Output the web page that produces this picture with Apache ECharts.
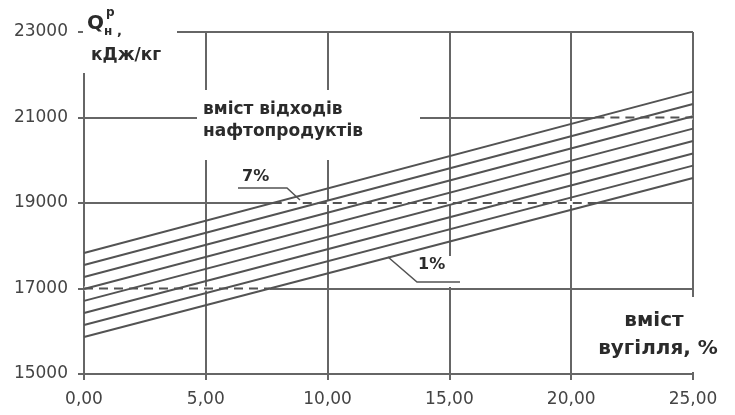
<!DOCTYPE html>
<html>
<head>
<meta charset="utf-8">
<script src="https://cdn.jsdelivr.net/npm/echarts@6/dist/echarts.min.js"></script>
<style>html,body{margin:0;padding:0;background:#fff;}#c{width:735px;height:415px;}</style>
</head>
<body>
<div id="c"></div>
<script>
// x positions (coal content, %) where each line is read
const xPoints = [0, 25];
// heating value of each line (from lowest "1%" to highest "7%") at x = 0 and x = 25
const valuesAtStart = [15865, 16145, 16425, 16710, 16990, 17270, 17550, 17830];
const valuesAtEnd   = [19585, 19875, 20160, 20450, 20740, 21030, 21315, 21605];
const xTickValues = [0, 5, 10, 15, 20, 25];
const xTickLabels = ['0,00', '5,00', '10,00', '15,00', '20,00', '25,00'];
const yTickValues = [15000, 17000, 19000, 21000, 23000];
const yTickLabels = ['15000', '17000', '19000', '21000', '23000'];
const lowLabel = '1%';
const highLabel = '7%';

const FONT = 'DejaVu Sans';
const GRID_COLOR = '#666666';
const LINE_COLOR = '#535353';

const chart = echarts.init(document.getElementById('c'), null, {renderer: 'canvas'});

// main series
const mainSeries = valuesAtStart.map((v, i) => ({
  type: 'line',
  name: 'line' + (i + 1),
  data: [[xPoints[0], v], [xPoints[1], valuesAtEnd[i]]],
  symbol: 'none',
  silent: true,
  lineStyle: {color: LINE_COLOR, width: 2},
  z: 3
}));

// dashed horizontal gridline parts inside the band of lines
const lo0 = valuesAtStart[0], lo1 = valuesAtEnd[0];
const hi0 = valuesAtStart[valuesAtStart.length - 1], hi1 = valuesAtEnd[valuesAtEnd.length - 1];
const xr = xPoints[1] - xPoints[0];
const bandSegments = [];
yTickValues.forEach(g => {
  let xs = xPoints[0] + (g - hi0) / (hi1 - hi0) * xr;
  let xe = xPoints[0] + (g - lo0) / (lo1 - lo0) * xr;
  xs = Math.max(xs, xPoints[0]);
  xe = Math.min(xe, xPoints[1]);
  if (xe > xs) bandSegments.push([[xs, g], [xe, g]]);
});
const underlay = bandSegments.map(seg => ({
  type: 'line', data: seg, symbol: 'none', silent: true,
  lineStyle: {color: '#ffffff', width: 4}, z: 2
}));
const dashed = bandSegments.map(seg => ({
  type: 'line', data: seg, symbol: 'none', silent: true,
  lineStyle: {color: LINE_COLOR, width: 2, type: [9, 6]}, z: 4
}));

const axisCommon = {
  axisLine: {show: true, lineStyle: {color: GRID_COLOR, width: 2}},
  axisTick: {show: true, length: 6, lineStyle: {color: GRID_COLOR, width: 2}},
  splitLine: {show: true, lineStyle: {color: GRID_COLOR, width: 2}}
};

const T = (x, y, text, size, extra) => Object.assign({
  type: 'text', x: x, y: y, z: 101,
  style: Object.assign({text: text, font: 'bold ' + size + 'px "' + FONT + '"', fill: '#2b2b2b',
    align: 'left', verticalAlign: 'middle'}, extra || {})
});
const R = (x, y, w, h) => ({type: 'rect', z: 100, shape: {x: x, y: y, width: w, height: h}, style: {fill: '#fff'}});
const P = (pts) => ({type: 'polyline', z: 101, shape: {points: pts}, style: {stroke: LINE_COLOR, lineWidth: 1.5, fill: null}});

chart.setOption({
  animation: false,
  backgroundColor: '#fff',
  grid: {left: 84, right: 42, top: 32, bottom: 41},
  xAxis: Object.assign({
    type: 'value', min: 0, max: 25, interval: 5,
    axisLabel: {margin: 17, fontFamily: FONT, fontSize: 17, color: '#444',
      formatter: v => xTickLabels[xTickValues.indexOf(v)]}
  }, axisCommon),
  yAxis: Object.assign({
    type: 'value', min: 15000, max: 23000, interval: 2000,
    axisLabel: {margin: 16, fontFamily: FONT, fontSize: 17, color: '#444',
      formatter: v => yTickLabels[yTickValues.indexOf(v)]}
  }, axisCommon),
  series: underlay.concat(mainSeries, dashed),
  graphic: [
    // y axis title
    R(83, 12, 94, 61),
    T(87, 24, 'Q', 20),
    T(106, 13, 'р', 12),
    T(104, 32, 'н', 12),
    T(117, 32, ',', 13),
    T(91, 56, 'кДж/кг', 17),
    // series group label
    R(197, 90, 223, 70),
    T(203, 110, 'вміст відходів', 17),
    T(203, 132, 'нафтопродуктів', 17),
    // 7% label
    T(242, 177, highLabel, 16),
    P([[238, 188], [287, 188], [300, 200]]),
    // 1% label
    R(410, 256, 60, 31),
    T(418, 265, lowLabel, 16),
    P([[388, 257], [417, 282], [460, 282]]),
    // x axis title
    R(588, 297, 140, 75),
    T(654, 321, 'вміст', 20, {align: 'center'}),
    T(658, 349, 'вугілля, %', 20, {align: 'center'})
  ]
});
</script>
</body>
</html>
